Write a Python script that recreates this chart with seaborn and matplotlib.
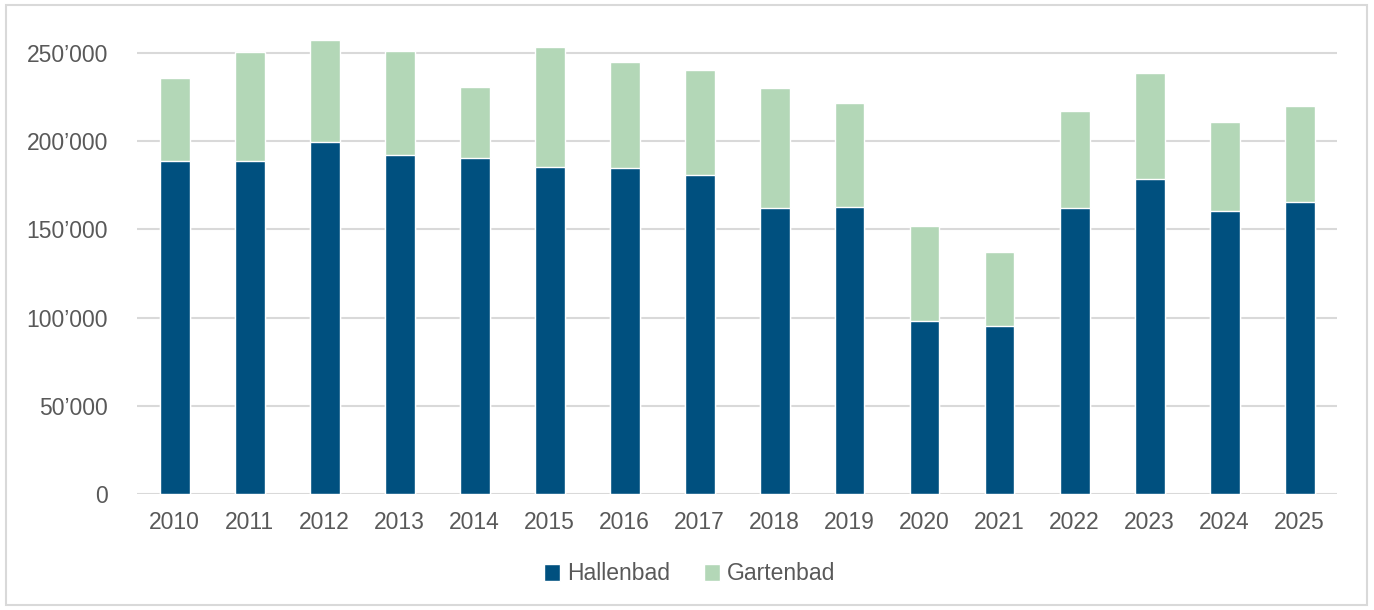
import numpy as np
import pandas as pd
import seaborn as sns
import matplotlib.pyplot as plt
from matplotlib.patches import Rectangle, Patch
from matplotlib.ticker import FuncFormatter

sns.set_style("white")
plt.rcParams['font.family'] = ['Liberation Sans', 'DejaVu Sans']

years = [str(y) for y in range(2010, 2026)]
hallenbad = [188800, 188800, 199500, 192200, 190500, 185400, 184800, 180800,
             162100, 162700, 98100, 95200, 162100, 178600, 160400, 165500]
gartenbad_total = [235800, 250500, 257400, 251100, 230700, 253400, 244900, 240400,
                   230200, 221700, 151900, 137200, 217100, 238700, 210900, 220000]

df = pd.DataFrame({'Jahr': years, 'Hallenbad': hallenbad, 'Total': gartenbad_total})

blue = '#00507F'
green = '#B3D7B7'
grey_text = '#595959'

fig = plt.figure(figsize=(13.74, 6.10), dpi=100)
ax = fig.add_axes([137/1374, 1-494/610, 1200/1374, (494-20)/610])

sns.barplot(data=df, x='Jahr', y='Total', color=green, width=0.4, saturation=1, ax=ax)
sns.barplot(data=df, x='Jahr', y='Hallenbad', color=blue, width=0.4, saturation=1, ax=ax)

ax.set_ylim(0, 268700)
ax.set_xlim(-0.5, len(years) - 0.5)
ax.set_yticks(np.arange(0, 250001, 50000))
ax.yaxis.set_major_formatter(FuncFormatter(lambda v, p: f"{int(v):,}".replace(',', '\u2019')))
ax.set_xlabel('')
ax.set_ylabel('')
ax.grid(axis='y', color='#D9D9D9', linewidth=1.5)
ax.set_axisbelow(True)
for s in ax.spines.values():
    s.set_visible(False)
ax.tick_params(axis='y', length=0, pad=21, labelsize=16.5, labelcolor=grey_text)
ax.tick_params(axis='x', length=0, pad=12, labelsize=16.5, labelcolor=grey_text)

handles = [Patch(facecolor=blue, label='Hallenbad'), Patch(facecolor=green, label='Gartenbad')]
fig.legend(handles=handles, loc='center', bbox_to_anchor=(0.502, 1-574/610), ncol=2,
           frameon=False, fontsize=16.5, labelcolor=grey_text, handlelength=0.7,
           handleheight=0.7, handletextpad=0.3, columnspacing=1.5)

fig.patches.append(Rectangle((6/1374, 5/610), 1361/1374, 600/610, transform=fig.transFigure,
                             fill=False, edgecolor='#D9D9D9', linewidth=1.5))

fig.savefig('out.png', dpi=100)
